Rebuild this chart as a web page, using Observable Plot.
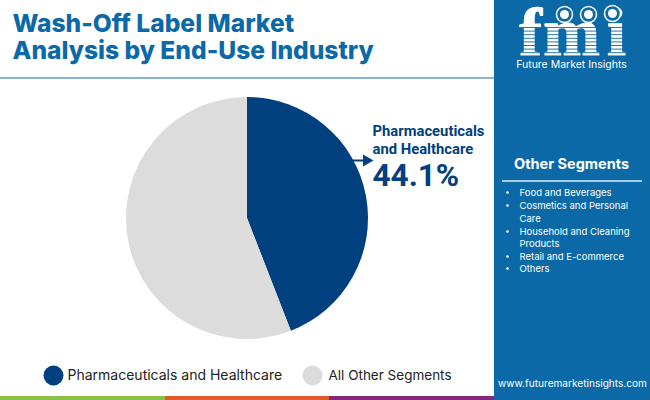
<!DOCTYPE html>
<html>
<head>
<meta charset="utf-8">
<script src="https://cdn.jsdelivr.net/npm/d3@7"></script>
<script src="https://cdn.jsdelivr.net/npm/@observablehq/plot@0.6"></script>
<style>
html,body{margin:0;padding:0;background:#fff;width:650px;height:400px;overflow:hidden}
svg{display:block}
</style>
</head>
<body>
<div id="chart"></div>
<script>
const categories = ["Pharmaceuticals and Healthcare", "All Other Segments"];
const shares = [44.1, 55.9];
const colors = ["#00407f", "#dcdcdc"];
const titleLines = ["Wash-Off Label Market", "Analysis by End-Use Industry"];
const calloutLines = ["Pharmaceuticals", "and Healthcare"];
const calloutValue = "44.1%";
const otherHeading = "Other Segments";
const otherLines = ["Food and Beverages", "Cosmetics and Personal", "Care", "Household and Cleaning", "Products", "Retail and E-commerce", "Others"];
const otherBullets = [true, true, false, true, false, true, true];
const logoLetters = ["f", "m", "i"];
const brand = "Future Market Insights";
const website = "www.futuremarketinsights.com";

const sans = "Inter, 'Noto Sans', sans-serif";
const blue = "#0b69a8";
const dark = "#00407f";
const pie = categories.map((name, i) => ({name, share: shares[i]}));

const rows = [192, 205, 218, 231, 243, 256, 268];
const listData = otherLines.map((t, i) => ({t, y: rows[i], bullet: otherBullets[i]}));

function wedges(index, scales) {
  const cx = scales.x(247), cy = scales.y(218), r = scales.x(368) - scales.x(247);
  const arcs = d3.pie().value(d => d.share).sort(null)(pie);
  const arc = d3.arc().innerRadius(0).outerRadius(r);
  const g = d3.create("svg:g").attr("transform", `translate(${cx},${cy})`);
  g.selectAll("path").data(arcs).join("path")
    .attr("d", arc)
    .attr("fill", d => scales.color(d.data.name));
  return g.node();
}

const logoStripes = d3.range(27, 57, 3.6);

const plot = Plot.plot({
  width: 650, height: 400,
  margin: 0,
  x: {domain: [0, 650], range: [0, 650], axis: null},
  y: {domain: [0, 400], range: [0, 400], axis: null},
  color: {domain: categories, range: colors},
  marks: [
    // panels and stripes
    Plot.rect([0], {x1: 494, x2: 650, y1: 0, y2: 400, fill: blue}),
    Plot.rect([0], {x1: 0, x2: 494, y1: 77, y2: 79, fill: "#89b3d2"}),
    Plot.rect([0], {x1: 0, x2: 165, y1: 396, y2: 400, fill: "#8bbf45"}),
    Plot.rect([0], {x1: 165, x2: 329, y1: 396, y2: 400, fill: "#e4592a"}),
    Plot.rect([0], {x1: 329, x2: 494, y1: 396, y2: 400, fill: "#85277f"}),

    // title
    Plot.text(titleLines, {text: d => d, x: 12, y: (d, i) => [24, 51][i], textAnchor: "start", fontFamily: sans, fontWeight: 800, fontSize: 24.6, fill: blue}),

    // pie
    wedges,

    // callout
    Plot.ruleY([160], {x1: 352, x2: 365, stroke: dark, strokeWidth: 2}),
    Plot.dot([0], {x: 366, y: 160, r: 4.5, symbol: "triangle", rotate: 90, fill: dark}),
    Plot.text(calloutLines, {text: d => d, x: 372, y: (d, i) => [131, 149][i], textAnchor: "start", fontFamily: "Roboto, sans-serif", fontWeight: 700, fontSize: 14.8, fill: dark}),
    Plot.text([calloutValue], {text: d => d, x: 372, y: 175, textAnchor: "start", fontFamily: "Roboto, sans-serif", fontWeight: 700, fontSize: 31.5, fill: dark}),

    // legend
    Plot.dot(categories, {x: [53, 312], y: [375, 375], r: 10, fill: d => d}),
    Plot.text(categories, {text: d => d, x: [67, 328], y: [375, 375], textAnchor: "start", fontFamily: sans, fontSize: [14, 13.5], fill: "#222"}),

    // logo
    Plot.text(logoLetters, {x: [530, 571, 616], y: 33, text: d => d, fontFamily: "'Liberation Serif', serif", fontWeight: 700, fontSize: 68, fill: "#fff", stroke: "#fff", strokeWidth: 1.2}),
    Plot.ruleY(logoStripes, {x1: 515, x2: 630, y: d => d, stroke: blue, strokeWidth: 0.9}),
    Plot.dot([0, 1, 2], {x: [564, 588, 612], y: [14, 14, 13], r: 8, fill: blue, stroke: "#fff", strokeWidth: 1.5}),
    Plot.dot([0, 1, 2], {x: [564, 588, 612], y: [14, 14, 13], r: 4.5, fill: "#fff"}),
    Plot.text([brand], {text: d => d, x: 571, y: 64, fontFamily: sans, fontSize: 10.5, fill: "#fff"}),

    // other segments panel
    Plot.text([otherHeading], {text: d => d, x: 571, y: 164, fontFamily: sans, fontWeight: 700, fontSize: 14.5, fill: "#fff"}),
    Plot.rect([0], {x1: 502, x2: 642, y1: 180, y2: 182, fill: "#a9cbe3"}),
    Plot.dot(listData.filter(d => d.bullet), {x: 507, y: "y", r: 1.3, fill: "#fff"}),
    Plot.text(listData, {text: "t", x: 519, y: "y", textAnchor: "start", fontFamily: sans, fontSize: 9.5, fill: "#fff"}),

    // website
    Plot.text([website], {text: d => d, x: 572, y: 383, fontFamily: sans, fontSize: 10.1, fill: "#fff"})
  ]
});
document.getElementById("chart").append(plot);
</script>
</body>
</html>
